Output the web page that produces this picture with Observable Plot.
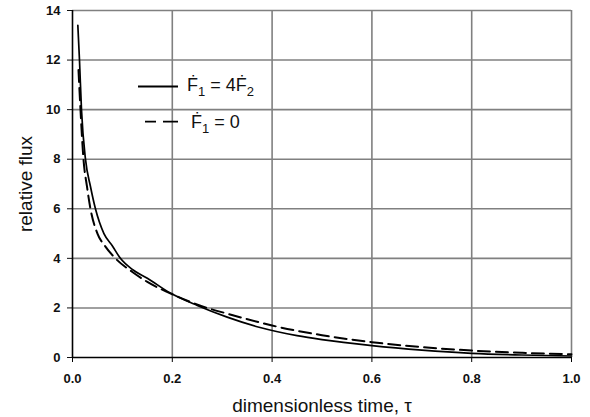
<!DOCTYPE html>
<html>
<head>
<meta charset="utf-8">
<script src="https://cdn.jsdelivr.net/npm/d3@7"></script>
<script src="https://cdn.jsdelivr.net/npm/@observablehq/plot@0.6"></script>
<style>
  html, body { margin: 0; padding: 0; background: #fff; }
  #chart svg { display: block; }
</style>
</head>
<body>
<div id="chart"></div>
<script>
// Series 1: F1' = 4 F2' (solid)
const tauSolid  = [0.0107, 0.014, 0.018, 0.026, 0.036, 0.046, 0.063, 0.08, 0.096, 0.12, 0.15, 0.196, 0.25, 0.31, 0.376, 0.45, 0.5, 0.6, 0.7, 0.8, 0.9, 1.0];
const fluxSolid = [13.4, 12.0, 10.0, 8.0, 6.9, 6.0, 5.0, 4.5, 4.0, 3.55, 3.2, 2.6, 2.1, 1.63, 1.21, 0.88, 0.72, 0.48, 0.3, 0.17, 0.1, 0.06];
// Series 2: F1' = 0 (dashed)
const tauDashed  = [0.012, 0.016, 0.022, 0.029, 0.036, 0.05, 0.065, 0.086, 0.12, 0.15, 0.2, 0.27, 0.31, 0.376, 0.4, 0.5, 0.6, 0.7, 0.8, 0.9, 1.0];
const fluxDashed = [11.6, 10.0, 8.0, 6.9, 6.0, 5.0, 4.5, 4.0, 3.45, 3.05, 2.55, 2.0, 1.77, 1.41, 1.29, 0.9, 0.62, 0.42, 0.28, 0.19, 0.13];

const xTicks = [0, 0.2, 0.4, 0.6, 0.8, 1.0];
const yTicks = [0, 2, 4, 6, 8, 10, 12, 14];
const xLabel = "dimensionless time, \u03C4";
const yLabel = "relative flux";
// legend entries: alternating [main, sub, main, sub]
const legendSolid  = ["\u1E1E", "1", " = 4\u1E1E", "2"];
const legendDashed = ["\u1E1E", "1", " = 0"];

const solid  = tauSolid.map((t, i) => ({tau: t, flux: fluxSolid[i]}));
const dashed = tauDashed.map((t, i) => ({tau: t, flux: fluxDashed[i]}));

const font = "'Liberation Sans', Arial, sans-serif";

const chart = Plot.plot({
  width: 590,
  height: 417,
  marginLeft: 72,
  marginRight: 19,
  marginTop: 10,
  marginBottom: 60,
  style: {fontFamily: font, fontSize: "13px", color: "#111", background: "#fff"},
  x: {domain: [0, 1]},
  y: {domain: [0, 14]},
  marks: [
    Plot.gridX(xTicks.slice(1), {stroke: "#808080", strokeOpacity: 1, strokeWidth: 1.6}),
    Plot.gridY(yTicks.slice(1), {stroke: "#808080", strokeOpacity: 1, strokeWidth: 1.6}),
    Plot.axisX(xTicks, {tickFormat: d3.format(".1f"), tickSize: 5, tickPadding: 11, fontWeight: "bold", fontSize: 13, label: null, stroke: "#000"}),
    Plot.axisY(yTicks, {tickSize: 5, tickPadding: 7, fontWeight: "bold", fontSize: 13, label: null}),
    Plot.ruleX([0], {stroke: "#000", strokeWidth: 1.6}),
    Plot.ruleY([0], {stroke: "#000", strokeWidth: 1.6}),
    Plot.line(dashed, {x: "tau", y: "flux", stroke: "#000", strokeWidth: 2, strokeDasharray: "12,6", curve: "monotone-x"}),
    Plot.line(solid, {x: "tau", y: "flux", stroke: "#000", strokeWidth: 1.7, curve: "monotone-x"}),
    Plot.text([xLabel], {frameAnchor: "bottom", lineAnchor: "middle", textAnchor: "middle", dy: 48, fontSize: 19, fill: "#111"}),
    Plot.text([yLabel], {frameAnchor: "left", textAnchor: "middle", lineAnchor: "middle", dx: -47, rotate: -90, fontSize: 19, fill: "#111"})
  ]
});

// Legend drawn inside the plot area
const svg = d3.select(chart);
const lg = svg.append("g").attr("font-family", font).attr("fill", "#111").attr("text-anchor", "start");
function legendRow(parts, lineX1, lineX2, lineY, textX, baseY, dash) {
  lg.append("line").attr("x1", lineX1).attr("x2", lineX2).attr("y1", lineY).attr("y2", lineY)
    .attr("stroke", "#000").attr("stroke-width", 1.8).attr("stroke-dasharray", dash);
  const t = lg.append("text").attr("x", textX).attr("y", baseY)
    .attr("text-anchor", "start").style("font-size", "18px");
  parts.forEach((p, i) => {
    const sub = i % 2 === 1;
    t.append("tspan").attr("dy", sub ? 5 : (i > 0 ? -5 : 0))
      .style("font-size", sub ? "13px" : "18px").text(p);
  });
}
legendRow(legendSolid, 138, 178, 86.5, 187, 91, null);
legendRow(legendDashed, 145, 178, 121.7, 191, 128, "11,7,15,7");

document.getElementById("chart").appendChild(chart);
</script>
</body>
</html>
